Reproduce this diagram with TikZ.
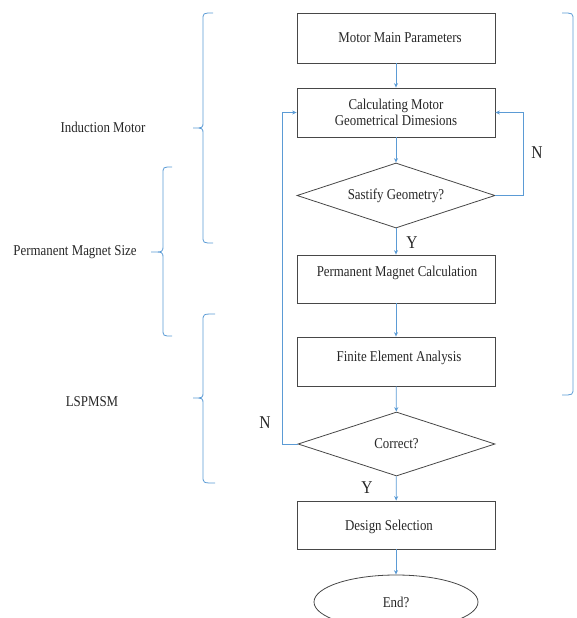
\documentclass[tikz,border=0pt]{standalone}
\usepackage{fontspec}
\setmainfont{Liberation Serif}[FakeStretch=0.86]
\usetikzlibrary{shapes.geometric,arrows.meta}
\definecolor{lineblue}{HTML}{5B9BD5}
\definecolor{ink}{HTML}{262626}
\begin{document}
\begin{tikzpicture}[x=1pt,y=-1pt,
  every node/.style={text=ink,font=\fontsize{15}{16}\selectfont},
  procbox/.style={draw=ink!85,line width=0.8pt,minimum width=198pt,inner sep=0pt},
  decision/.style={draw=ink!85,line width=0.8pt,shape=diamond,shape aspect=3.05,minimum width=198pt,minimum height=65pt,inner sep=0pt},
  terminal/.style={draw=ink!85,line width=0.8pt,shape=ellipse,minimum width=164pt,minimum height=54pt,inner sep=0pt},
  flow/.style={draw=lineblue,line width=0.8pt,-{Stealth[length=4.5pt,width=4pt]}},
  bracket/.style={draw=lineblue,line width=0.8pt},
  yn/.style={font=\fontsize{18}{20}\selectfont},
  side/.style={font=\fontsize{15}{16}\selectfont}]
\useasboundingbox (0,0) rectangle (576,618);

% flow nodes
\node[procbox,minimum height=50pt] (b1) at (396,38) {\hspace*{8pt}Motor Main Parameters};
\node[procbox,minimum height=49pt,align=center] (b2) at (396,112.5) {\fontsize{15}{16}\selectfont Calculating Motor\\Geometrical Dimesions};
\node[decision] (d1) at (396,195.5) {Sastify Geometry?};
\node[procbox,minimum height=48pt] (b3) at (396,279) {};
\node at (397,273) {Permanent Magnet Calculation};
\node[procbox,minimum height=49pt] (b4) at (396,361.5) {};
\node at (399,358) {Finite Element Analysis};
\node[decision,minimum width=197pt,minimum height=64pt] (d2) at (396.5,444) {Correct?};
\node[procbox,minimum height=48pt] (b5) at (396,525) {};
\node at (389,527) {Design Selection};
\node[terminal] (e1) at (396,602) {End?};

% connectors
\draw[flow] (b1) -- (b2);
\draw[flow] (b2) -- (d1);
\draw[flow] (d1) -- (b3);
\draw[flow] (b3) -- (b4);
\draw[flow] (b4) -- (d2);
\draw[flow] (d2) -- (b5);
\draw[flow] (b5) -- (e1);
\draw[flow] (d1.east) -- (523,195.5) |- (b2.east);
\draw[flow] (d2.west) -- (282,444) |- (b2.west);

% Y / N labels
\node[yn] (n1) at (537,153) {N};
\node[yn] (n2) at (265,423) {N};
\node[yn] (y1) at (412,243) {Y};
\node[yn] (y2) at (367,488) {Y};

% side labels
\node[side] (im) at (103,127) {Induction Motor};
\node[side] (pm) at (75,252) {Permanent Magnet Size};
\node[side] (ls) at (92,402) {LSPMSM};

% braces
\draw[bracket] (213,13) .. controls (203,13) .. (203,20) -- (203,122) .. controls (203,128) .. (193,128)
  .. controls (203,128) .. (203,134) -- (203,236) .. controls (203,243) .. (213,243);
\draw[bracket] (172,167) .. controls (163,167) .. (163,174) -- (163,246) .. controls (163,252) .. (151,252)
  .. controls (163,252) .. (163,258) -- (163,329) .. controls (163,336) .. (172,336);
\draw[bracket] (215,314) .. controls (203,314) .. (203,321) -- (203,392) .. controls (203,398) .. (193,398)
  .. controls (203,398) .. (203,404) -- (203,476) .. controls (203,483) .. (215,483);
\draw[bracket] (562,13) .. controls (573,13) .. (573,20) -- (573,388) .. controls (573,395) .. (562,395);
\end{tikzpicture}
\end{document}
